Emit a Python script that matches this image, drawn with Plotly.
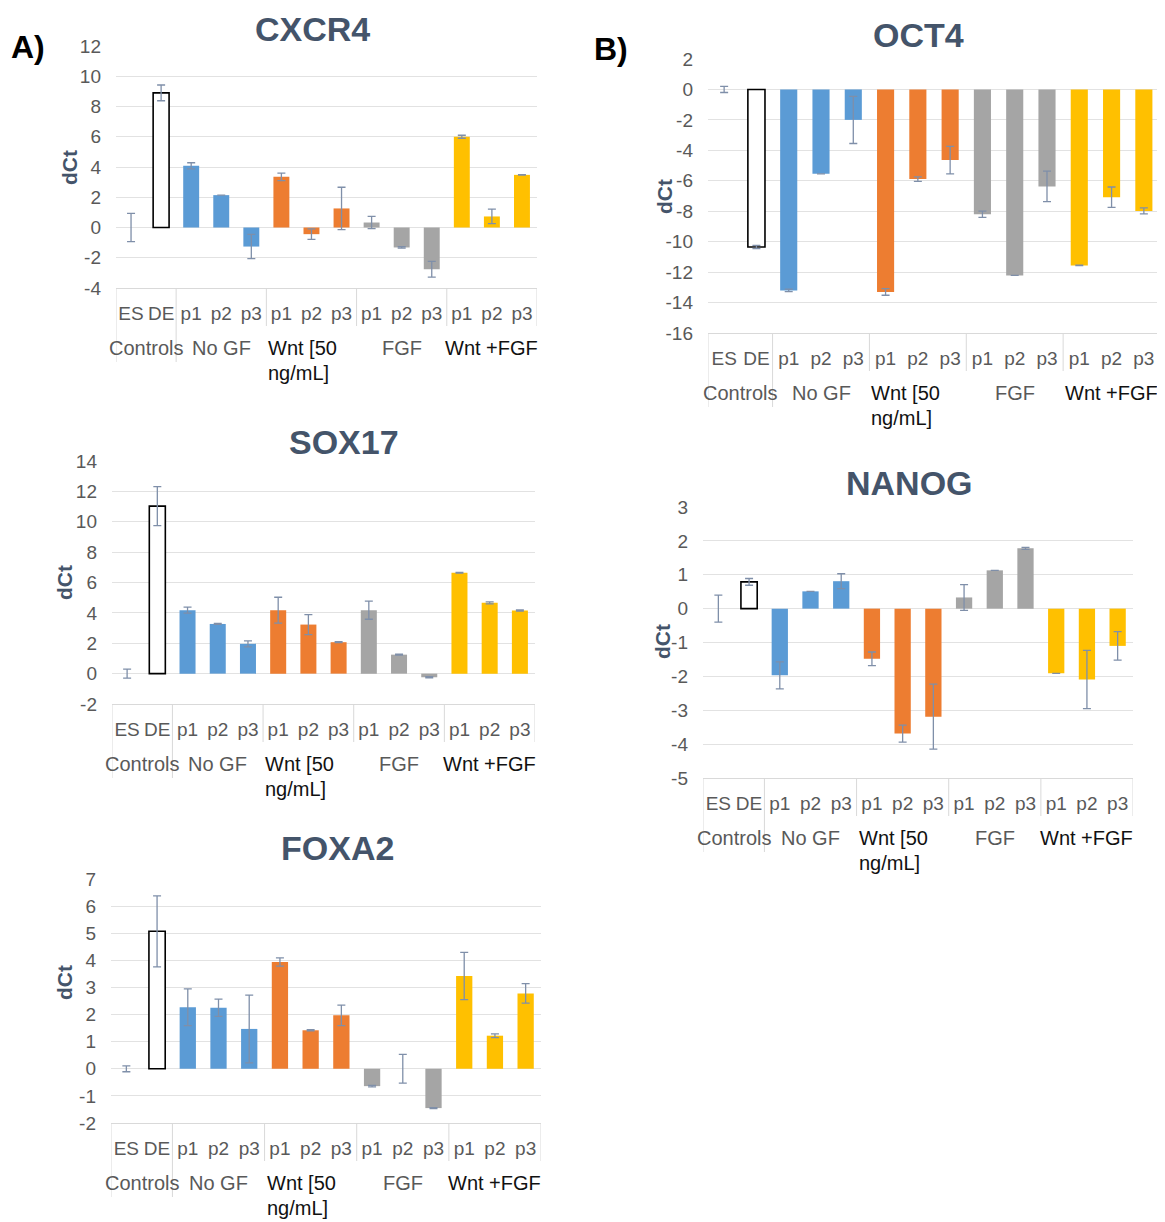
import plotly.graph_objects as go

# ---------------- data ----------------
categories = ["ES", "DE", "p1", "p2", "p3", "p1", "p2", "p3", "p1", "p2", "p3", "p1", "p2", "p3"]
group_names = ["Controls", "No GF", "Wnt [50 ng/mL]", "FGF", "Wnt +FGF"]
group_sizes = [2, 3, 3, 3, 3]

cxcr4 = [0.0, 8.9, 4.08, 2.14, -1.26, 3.35, -0.44, 1.26, 0.33, -1.32, -2.76, 6.0, 0.73, 3.48]
cxcr4_err = [0.93, 0.52, 0.2, 0.0, 0.8, 0.25, 0.35, 1.4, 0.4, 0.05, 0.52, 0.1, 0.48, 0.02]

sox17 = [0.0, 11.03, 4.18, 3.27, 1.96, 4.18, 3.23, 2.07, 4.18, 1.25, -0.24, 6.64, 4.66, 4.15]
sox17_err = [0.29, 1.28, 0.2, 0.03, 0.2, 0.85, 0.66, 0.03, 0.6, 0.03, 0.04, 0.02, 0.07, 0.04]

foxa2 = [0.0, 5.07, 2.27, 2.25, 1.47, 3.94, 1.42, 1.97, -0.64, 0.0, -1.45, 3.42, 1.22, 2.78]
foxa2_err = [0.11, 1.31, 0.68, 0.32, 1.25, 0.15, 0.02, 0.38, 0.03, 0.53, 0.02, 0.87, 0.07, 0.36]

oct4 = [0.0, -10.35, -13.2, -5.54, -2.0, -13.3, -5.89, -4.64, -8.2, -12.22, -6.37, -11.56, -7.08, -7.98]
oct4_err = [0.2, 0.1, 0.08, 0.0, 1.55, 0.22, 0.15, 0.9, 0.2, 0.0, 1.0, 0.02, 0.67, 0.2]

nanog = [0.0, 0.79, -1.97, 0.51, 0.81, -1.48, -3.69, -3.19, 0.33, 1.13, 1.78, -1.91, -2.09, -1.1]
nanog_err = [0.4, 0.1, 0.4, 0.0, 0.22, 0.2, 0.25, 0.96, 0.38, 0.0, 0.03, 0.0, 0.86, 0.42]

# ---------------- style ----------------
W, H = 1165, 1222          # target page size
OFF = 8                    # page body margin
FW, FH = W - OFF, H - OFF  # figure size
FONT = "Liberation Sans, Arial, sans-serif"
TICK_C = "#595959"
TITLE_C = "#44546A"
GRID_C = "#E2E2E2"
SEP_C = "#D9D9D9"
ERR_C = "#7F8FA9"
group_colors = {"Controls": "#FFFFFF", "No GF": "#5B9BD5", "Wnt [50 ng/mL]": "#ED7D31",
                "FGF": "#A5A5A5", "Wnt +FGF": "#FFC000"}
group_label_colors = {"Controls": TICK_C, "No GF": TICK_C, "Wnt [50 ng/mL]": "#111111",
                      "FGF": TICK_C, "Wnt +FGF": "#111111"}

fills, lines, lws = [], [], []
for g, n in zip(group_names, group_sizes):
    for k in range(n):
        fills.append(group_colors[g])
        if g == "Controls":
            lines.append("#000000")
            lws.append(0 if k == 0 else 1.6)
        else:
            lines.append(group_colors[g])
            lws.append(0)

xs = list(range(len(categories)))

# panel layout in page pixels
panels = [
    dict(vals=cxcr4, err=cxcr4_err, title="CXCR4", x0=116, x1=537, top=46, bot=288,
         yr=(-4, 12), dt=2, tpos=(313, 29), dct=(70, 168)),
    dict(vals=sox17, err=sox17_err, title="SOX17", x0=112, x1=535, top=461, bot=704,
         yr=(-2, 14), dt=2, tpos=(344, 442), dct=(64, 583)),
    dict(vals=foxa2, err=foxa2_err, title="FOXA2", x0=111, x1=541, top=879, bot=1123,
         yr=(-2, 7), dt=1, tpos=(337, 848), dct=(64, 983)),
    dict(vals=oct4, err=oct4_err, title="OCT4", x0=708, x1=1160, top=59, bot=333,
         yr=(-16, 2), dt=2, tpos=(918, 35), dct=(664, 197)),
    dict(vals=nanog, err=nanog_err, title="NANOG", x0=703, x1=1133, top=507, bot=778,
         yr=(-5, 3), dt=1, tpos=(909, 483), dct=(663, 642)),
]


def px(x):
    return (x - OFF) / FW


def py(y):
    return 1 - (y - OFF) / FH


fig = go.Figure()
annotations = []
shapes = []
layout = {}

for i, p in enumerate(panels):
    s = "" if i == 0 else str(i + 1)
    fig.add_trace(go.Bar(
        x=xs, y=p["vals"], width=0.53,
        marker=dict(color=fills, line=dict(color=lines, width=lws)),
        error_y=dict(type="data", array=p["err"], visible=True, color=ERR_C,
                     thickness=1.3, width=4),
        xaxis="x" + s, yaxis="y" + s, showlegend=False, hoverinfo="x+y"))

    lo, hi = p["yr"]
    tv = list(range(lo, hi + 1, p["dt"]))
    layout["xaxis" + s] = dict(
        domain=[px(p["x0"]), px(p["x1"])], anchor="y" + s, range=[-0.5, len(xs) - 0.5],
        tickvals=xs, ticktext=categories, tickfont=dict(size=19, color=TICK_C, family=FONT),
        showgrid=False, zeroline=False, showline=True, linecolor=SEP_C, linewidth=1,
        ticks="", ticklabelstandoff=8, fixedrange=True, automargin=False)
    layout["yaxis" + s] = dict(
        domain=[py(p["bot"]), py(p["top"])], anchor="x" + s, range=[lo, hi],
        tickvals=tv, ticktext=[str(v) for v in tv],
        tickfont=dict(size=19, color=TICK_C, family=FONT),
        showgrid=True, gridcolor=GRID_C, gridwidth=1, zeroline=True, zerolinecolor=GRID_C,
        zerolinewidth=1, showline=False, ticks="", ticklabelstandoff=14, fixedrange=True,
        automargin=False)

    # title
    annotations.append(dict(text="<b>%s</b>" % p["title"], x=px(p["tpos"][0]), y=py(p["tpos"][1]),
                            xref="paper", yref="paper", showarrow=False, xanchor="center",
                            yanchor="middle", font=dict(size=34, color=TITLE_C, family=FONT)))
    # y-axis title
    annotations.append(dict(text="<b>dCt</b>", x=px(p["dct"][0]), y=py(p["dct"][1]),
                            xref="paper", yref="paper", showarrow=False, textangle=-90,
                            xanchor="center", yanchor="middle",
                            font=dict(size=21, color=TITLE_C, family=FONT)))

    # group separators and labels
    b = p["bot"]
    bounds = [-0.5]
    for n in group_sizes:
        bounds.append(bounds[-1] + n)
    for j, xb in enumerate(bounds):
        long_line = j <= 1
        shapes.append(dict(type="line", xref="x" + s, yref="paper", x0=xb, x1=xb,
                           y0=py(b), y1=py(b + (74 if long_line else 38)),
                           line=dict(color=SEP_C, width=1)))
    for j, (g, n) in enumerate(zip(group_names, group_sizes)):
        cx = (bounds[j] + bounds[j + 1]) / 2
        gf = dict(size=20, color=group_label_colors[g], family=FONT)
        if g.startswith("Wnt [50"):
            annotations.append(dict(text="Wnt [50", x=bounds[j], y=py(b + 60), xref="x" + s,
                                    yref="paper", showarrow=False, xanchor="left",
                                    yanchor="middle", font=gf))
            annotations.append(dict(text="ng/mL]", x=bounds[j], y=py(b + 85), xref="x" + s,
                                    yref="paper", showarrow=False, xanchor="left",
                                    yanchor="middle", font=gf))
        else:
            annotations.append(dict(text=g, x=cx, y=py(b + 60), xref="x" + s, yref="paper",
                                    showarrow=False, xanchor="center", yanchor="middle",
                                    font=gf))

# panel letters
annotations.append(dict(text="<b>A)</b>", x=px(28), y=py(47), xref="paper", yref="paper",
                        showarrow=False, xanchor="center", yanchor="middle",
                        font=dict(size=32, color="#000000", family=FONT)))
annotations.append(dict(text="<b>B)</b>", x=px(611), y=py(49), xref="paper", yref="paper",
                        showarrow=False, xanchor="center", yanchor="middle",
                        font=dict(size=32, color="#000000", family=FONT)))

fig.update_layout(width=FW, height=FH, margin=dict(l=0, r=0, t=0, b=0, autoexpand=False),
                  paper_bgcolor="white", plot_bgcolor="white", bargap=0.47,
                  annotations=annotations, shapes=shapes, font=dict(family=FONT),
                  **layout)

fig.write_html("out.html")
